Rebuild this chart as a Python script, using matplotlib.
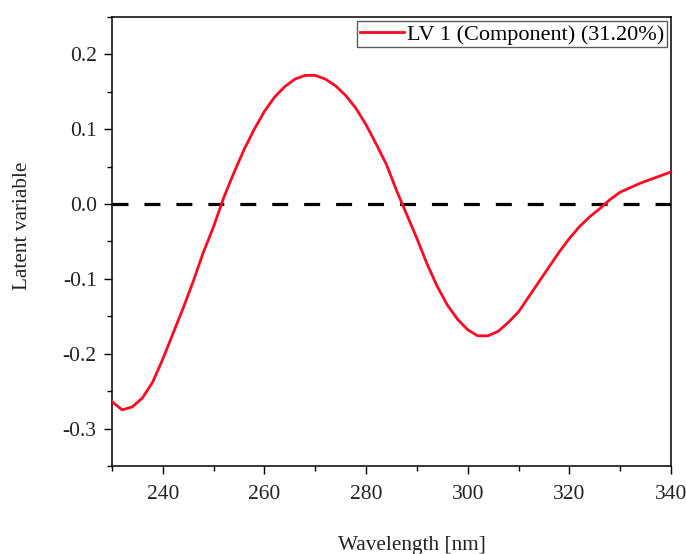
import matplotlib
matplotlib.use("Agg")
import matplotlib.pyplot as plt
from matplotlib.ticker import MultipleLocator, FuncFormatter

wavelength = [230, 232, 234, 236, 238, 240, 242, 244, 246, 248, 250, 252, 254, 256,
              258, 260, 262, 264, 266, 268, 270, 272, 274, 276, 278, 280, 282, 284,
              286, 288, 290, 292, 294, 296, 298, 300, 302, 304, 306, 308, 310, 312,
              314, 316, 318, 320, 322, 324, 326, 328, 330, 332, 334, 336, 338, 340]
lv1 = [-0.264, -0.275, -0.271, -0.259, -0.238, -0.207, -0.173, -0.139, -0.103, -0.064,
       -0.030, 0.009, 0.042, 0.073, 0.100, 0.124, 0.143, 0.157, 0.167, 0.172,
       0.172, 0.167, 0.158, 0.145, 0.128, 0.106, 0.080, 0.053, 0.018, -0.014,
       -0.046, -0.080, -0.110, -0.135, -0.154, -0.168, -0.176, -0.176, -0.170, -0.158,
       -0.144, -0.124, -0.104, -0.084, -0.064, -0.046, -0.030, -0.017, -0.006, 0.006,
       0.016, 0.022, 0.028, 0.033, 0.038, 0.043]
legend_label = "LV 1 (Component) (31.20%)"
xlabel = "Wavelength [nm]"
ylabel = "Latent variable"

plt.rcParams['font.family'] = ['Liberation Serif', 'DejaVu Serif']
plt.rcParams['axes.unicode_minus'] = False

fig = plt.figure(figsize=(6.86, 5.54), dpi=100)
ax = fig.add_axes([112/686, 1-466/554, (671-112)/686, (466-17)/554])

ax.plot(wavelength, lv1, color='#ff0a22', lw=2.0, label=legend_label, zorder=3)
ax.axhline(0.0, color='black', lw=2.3, linestyle=(0, (5, 5)), zorder=2)

ax.set_xlim(230, 340)
ax.set_ylim(-0.35, 0.25)
ax.xaxis.set_major_locator(MultipleLocator(20))
ax.xaxis.set_minor_locator(MultipleLocator(10))
ax.yaxis.set_major_locator(MultipleLocator(0.1))
ax.yaxis.set_minor_locator(MultipleLocator(0.05))
ax.yaxis.set_major_formatter(FuncFormatter(lambda v, p: f"{v:.1f}".replace("-0.0", "0.0")))
ax.xaxis.set_major_formatter(FuncFormatter(lambda v, p: f"{v:.0f}"))

for s in ax.spines.values():
    s.set_linewidth(1.1)
    s.set_color('black')
ax.tick_params(which='major', direction='out', length=6, width=1.0, labelsize=15.5,
               colors='black', labelcolor='#222222')
ax.tick_params(which='minor', direction='out', length=3.5, width=1.0, colors='black')
ax.tick_params(axis='x', which='major', pad=8)
ax.tick_params(axis='y', which='major', pad=5)

ax.set_xlabel(xlabel, fontsize=15.3, color='#222222')
ax.set_ylabel(ylabel, fontsize=15.3, color='#222222')
ax.xaxis.set_label_coords(0.537, -0.156)
ax.xaxis.label.set_va('top')
ax.yaxis.set_label_coords(-0.143, 0.5345)

leg = ax.legend(loc='upper right', fontsize=16, frameon=True, fancybox=False,
                handlelength=2.0, handletextpad=0.1, borderpad=0.12,
                borderaxespad=0.2, edgecolor='#333333')
leg.get_frame().set_linewidth(1.0)

fig.savefig("out.png", dpi=100)
